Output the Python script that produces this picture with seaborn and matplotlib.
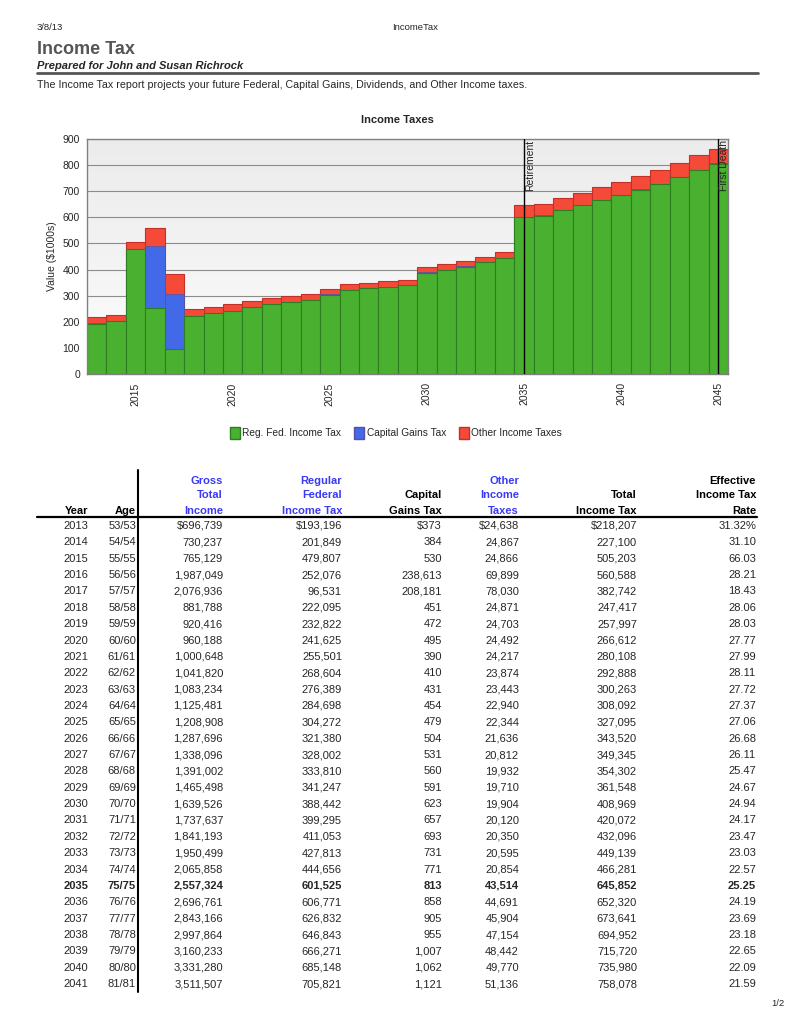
import numpy as np
import pandas as pd
import matplotlib
matplotlib.use("Agg")
import matplotlib.pyplot as plt
from matplotlib.colors import LinearSegmentedColormap
from matplotlib.lines import Line2D
from matplotlib.patches import Patch
import seaborn as sns

# ---------------- data ----------------
years = list(range(2013, 2046))
reg_fed = [193196, 201849, 479807, 252076, 96531, 222095, 232822, 241625, 255501,
           268604, 276389, 284698, 304272, 321380, 328002, 333810, 341247, 388442,
           399295, 411053, 427813, 444656, 601525, 606771, 626832, 646843, 666271,
           685148, 705821, 727000, 754000, 780000, 805000]
cap_gains = [373, 384, 530, 238613, 208181, 451, 472, 495, 390, 410, 431, 454, 479,
             504, 531, 560, 591, 623, 657, 693, 731, 771, 813, 858, 905, 955, 1007,
             1062, 1121, 1180, 1240, 1310, 1380]
other_tax = [24638, 24867, 24866, 69899, 78030, 24871, 24703, 24492, 24217, 23874,
             23443, 22940, 22344, 21636, 20812, 19932, 19710, 19904, 20120, 20350,
             20595, 20854, 43514, 44691, 45904, 47154, 48442, 49770, 51136, 52600,
             54100, 55600, 57200]

table_years = years[:29]
ages = ["53/53", "54/54", "55/55", "56/56", "57/57", "58/58", "59/59", "60/60",
        "61/61", "62/62", "63/63", "64/64", "65/65", "66/66", "67/67", "68/68",
        "69/69", "70/70", "71/71", "72/72", "73/73", "74/74", "75/75", "76/76",
        "77/77", "78/78", "79/79", "80/80", "81/81"]
gross_income = [696739, 730237, 765129, 1987049, 2076936, 881788, 920416, 960188,
                1000648, 1041820, 1083234, 1125481, 1208908, 1287696, 1338096,
                1391002, 1465498, 1639526, 1737637, 1841193, 1950499, 2065858,
                2557324, 2696761, 2843166, 2997864, 3160233, 3331280, 3511507]
total_tax = [218207, 227100, 505203, 560588, 382742, 247417, 257997, 266612, 280108,
             292888, 300263, 308092, 327095, 343520, 349345, 354302, 361548, 408969,
             420072, 432096, 449139, 466281, 645852, 652320, 673641, 694952, 715720,
             735980, 758078]
eff_rate = [31.32, 31.10, 66.03, 28.21, 18.43, 28.06, 28.03, 27.77, 27.99, 28.11,
            27.72, 27.37, 27.06, 26.68, 26.11, 25.47, 24.67, 24.94, 24.17, 23.47,
            23.03, 22.57, 25.25, 24.19, 23.69, 23.18, 22.65, 22.09, 21.59]
bold_year = 2035
events = [(2035, "Retirement"), (2045, "First Death")]
series_names = ["Reg. Fed. Income Tax", "Capital Gains Tax", "Other Income Taxes"]

# ---------------- style ----------------
sns.set_style("white")
plt.rcParams["font.family"] = ["Liberation Sans", "DejaVu Sans"]
NARROW = ["Liberation Sans Narrow", "Liberation Sans", "DejaVu Sans"]

GREEN, GREEN_E = "#49b030", "#2f7d22"
BLUE, BLUE_E = "#4169e8", "#5a4fa0"
RED, RED_E = "#f54a38", "#c2302a"
HDR_BLUE = "#3a3af5"

W, H = 794, 1028
fig = plt.figure(figsize=(W / 100, H / 100), dpi=100)


def T(x, y, s, ha="left", size=8, **kw):
    fig.text(x / W, 1 - y / H, s, ha=ha, va="center_baseline", fontsize=size, **kw)


# ---------------- page header ----------------
T(37, 27, "3/8/13", size=6.8, family=NARROW)
T(415, 27, "IncomeTax", ha="center", size=6.8, family=NARROW)
T(37, 47, "Income Tax", size=13, weight="bold", color="#555555")
T(37, 65, "Prepared for John and Susan Richrock", size=8, weight="bold", style="italic")
fig.add_artist(Line2D([37 / W, 758 / W], [1 - 73 / H] * 2, color="#555555", lw=2))
T(37, 84, "The Income Tax report projects your future Federal, Capital Gains, Dividends, "
          "and Other Income taxes.", size=7.7)

# ---------------- chart ----------------
L, R, TOP, BOT = 87, 728, 139, 374
ax = fig.add_axes([L / W, 1 - BOT / H, (R - L) / W, (BOT - TOP) / H])

df = pd.DataFrame({"year": years,
                   "reg": np.array(reg_fed) / 1000,
                   "cap": np.array(cap_gains) / 1000,
                   "other": np.array(other_tax) / 1000})
df["reg_cap"] = df["reg"] + df["cap"]
df["total"] = df["reg_cap"] + df["other"]

for col, fc, ec, lw in [("total", RED, RED_E, 0.8), ("reg_cap", BLUE, BLUE_E, 0.5),
                        ("reg", GREEN, GREEN_E, 0.8)]:
    sns.barplot(data=df, x="year", y=col, native_scale=True, width=1, color=fc,
                edgecolor=ec, linewidth=lw, saturation=1, errorbar=None, ax=ax, zorder=2)

grad = np.linspace(0, 1, 256).reshape(-1, 1)
cmap = LinearSegmentedColormap.from_list("bg", ["#ffffff", "#f3f3f3", "#ececec"])
ax.imshow(grad, extent=[0, 1, 0, 1], transform=ax.transAxes, origin="lower",
          aspect="auto", cmap=cmap, zorder=0)

ax.set_xlim(2012.5, 2045.5)
ax.set_ylim(0, 900)
ax.set_yticks(range(0, 901, 100))
ax.set_xticks(range(2015, 2046, 5))
ax.set_xticklabels([str(y) for y in range(2015, 2046, 5)], rotation=90, fontsize=7.5)
ax.tick_params(axis="y", labelsize=7.5, length=3, color="#808080", pad=2)
ax.tick_params(axis="x", length=3, color="#808080", pad=3)
ax.set_axisbelow(True)
ax.yaxis.grid(True, color="#8c8c8c", lw=0.8)
ax.xaxis.grid(False)
for s in ax.spines.values():
    s.set_color("#808080")
    s.set_linewidth(1)
ax.set_xlabel("")
ax.set_ylabel("Value ($1000s)", fontsize=7.5, labelpad=4)

for yr, lab in events:
    ax.axvline(yr, color="black", lw=1, zorder=3)
    ax.text(yr + 0.05, 897, lab, rotation=90, ha="left", va="top", fontsize=7.5, zorder=4)

T(397, 119, "Income Taxes", ha="center", size=8, weight="bold")

handles = [Patch(facecolor=GREEN, edgecolor=GREEN_E),
           Patch(facecolor=BLUE, edgecolor=BLUE_E),
           Patch(facecolor=RED, edgecolor=RED_E)]
fig.legend(handles, series_names, loc="center", ncol=3,
           bbox_to_anchor=(396 / W, 1 - 433 / H), frameon=False, fontsize=7.3,
           handlelength=1.0, handleheight=1.5, handletextpad=0.2, columnspacing=1.3)

# ---------------- table ----------------
cols = [88, 136, 223, 342, 442, 519, 637, 756]
hdr_rows = [480, 494, 510]
headers = [
    (["", "", "Year"], "black"),
    (["", "", "Age"], "black"),
    (["Gross", "Total", "Income"], HDR_BLUE),
    (["Regular", "Federal", "Income Tax"], HDR_BLUE),
    (["", "Capital", "Gains Tax"], "black"),
    (["Other", "Income", "Taxes"], HDR_BLUE),
    (["", "Total", "Income Tax"], "black"),
    (["Effective", "Income Tax", "Rate"], "black"),
]
for x, (lines, c) in zip(cols, headers):
    for y, s in zip(hdr_rows, lines):
        if s:
            T(x, y, s, ha="right", size=8, weight="bold", color=c, family=NARROW)

fig.add_artist(Line2D([37 / W, 757 / W], [1 - 517 / H] * 2, color="black", lw=1.6))
fig.add_artist(Line2D([137.5 / W] * 2, [1 - 470 / H, 1 - 992 / H], color="black", lw=1.5))

row0, dy = 525, 16.36
for i, yr in enumerate(table_years):
    y = row0 + i * dy
    pre = "$" if i == 0 else ""
    pct = "%" if i == 0 else ""
    vals = [str(yr), ages[i], f"{pre}{gross_income[i]:,}", f"{pre}{reg_fed[i]:,}",
            f"{pre}{cap_gains[i]:,}", f"{pre}{other_tax[i]:,}", f"{pre}{total_tax[i]:,}",
            f"{eff_rate[i]:.2f}{pct}"]
    w = "bold" if yr == bold_year else "normal"
    for x, s in zip(cols, vals):
        T(x, y, s, ha="right", size=8, weight=w)

T(785, 1003, "1/2", ha="right", size=6.8, family=NARROW)

fig.savefig("out.png", dpi=100)
